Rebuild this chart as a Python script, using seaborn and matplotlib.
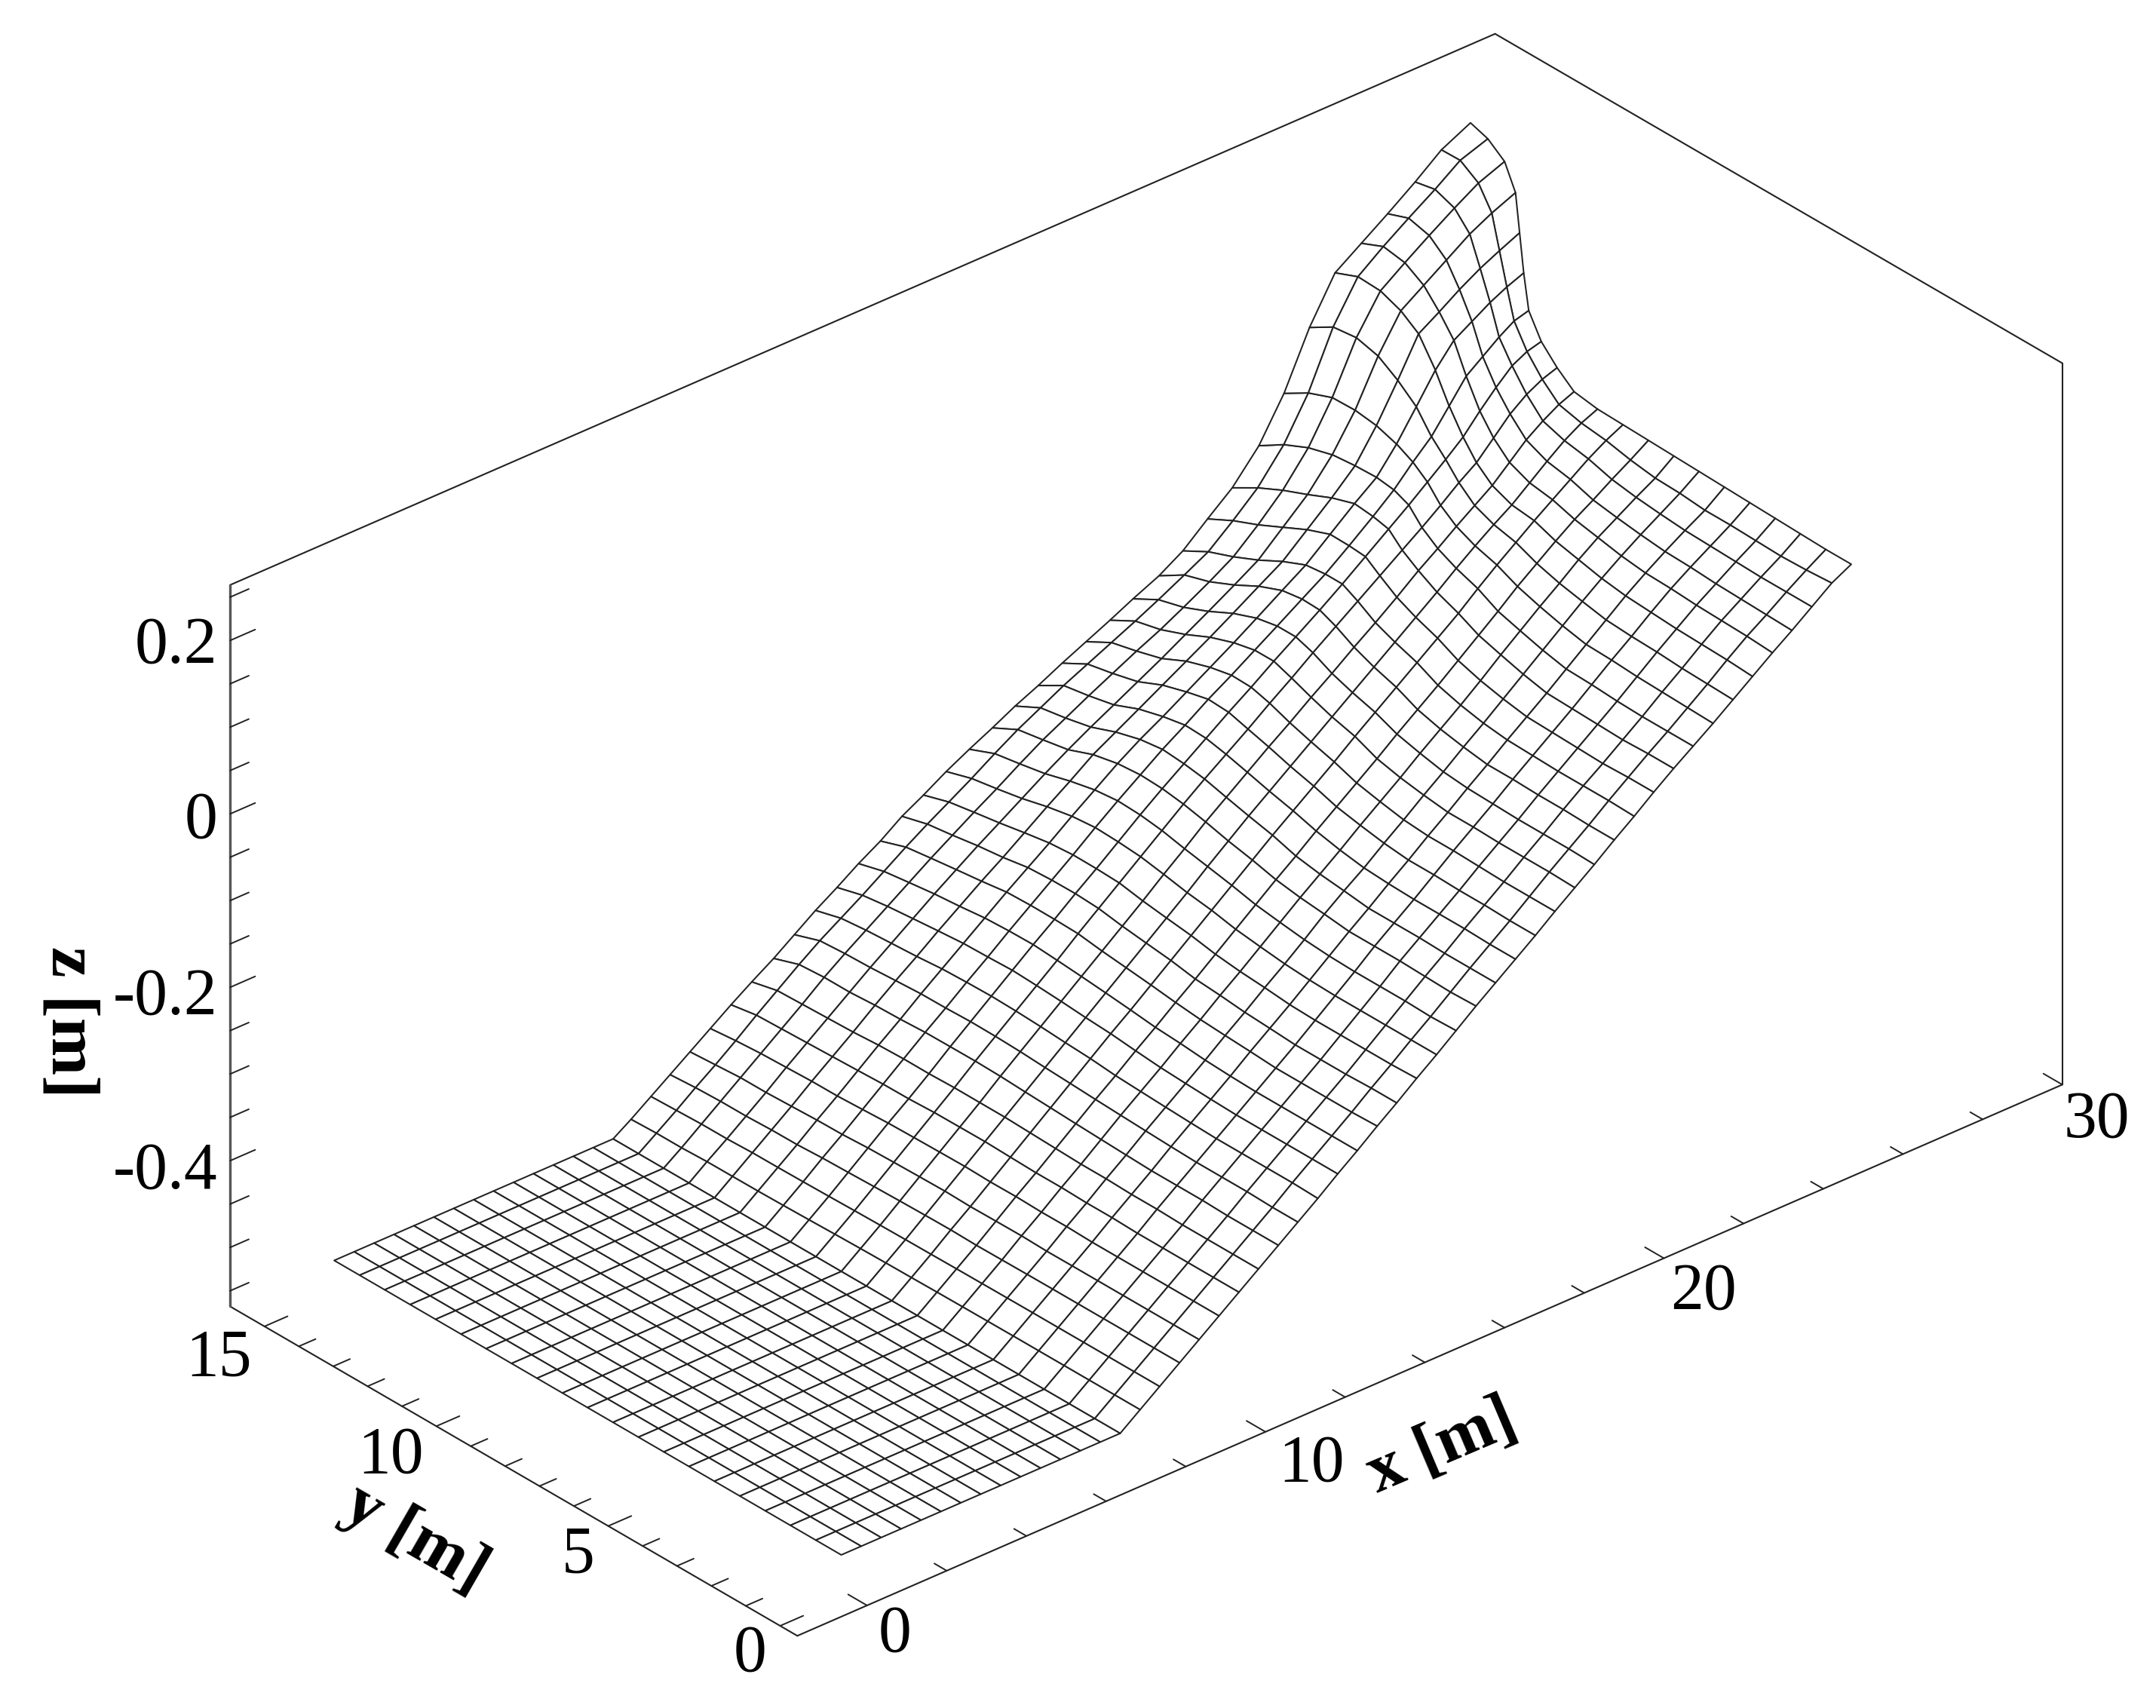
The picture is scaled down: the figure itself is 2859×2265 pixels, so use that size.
import numpy as np
import matplotlib
matplotlib.use("Agg")
import matplotlib.pyplot as plt
import seaborn as sns

sns.set_theme(style="white")
plt.rcParams['font.family'] = ['Liberation Serif', 'DejaVu Serif']

# ---------- data ----------
X_LIM = (-1.75, 30.0)
Y_LIM = (-0.5, 16.0)
Z_LIM = (-0.568, 0.264)

X_MAJOR = [0, 10, 20, 30]
X_MINOR = [2, 4, 6, 8, 12, 14, 16, 18, 22, 24, 26, 28]
Y_MAJOR = [0, 5, 10, 15]
Y_MINOR = [1, 2, 3, 4, 6, 7, 8, 9, 11, 12, 13, 14]
Z_MAJOR = [-0.4, -0.2, 0.0, 0.2]
Z_MINOR = [-0.55, -0.5, -0.45, -0.35, -0.3, -0.25, -0.15, -0.1, -0.05, 0.05, 0.1, 0.15, 0.25]

# cross-shore position of each grid row at the low-y and the high-y edge
row_x_low = [0, .5, 1, 1.5, 2, 2.5, 3, 3.5, 4, 4.5, 5, 5.5, 6, 6.5,
             7.00, 7.50, 7.99, 8.49, 8.98, 9.48, 9.98, 10.47, 10.97, 11.46, 11.96, 12.46, 12.95, 13.45,
             13.94, 14.44, 14.94, 15.43, 15.93, 16.42, 16.92, 17.42, 17.91, 18.41, 18.90, 19.40, 19.90,
             20.39, 20.89, 21.38, 21.88, 22.38, 22.87, 23.37, 23.86, 24.36, 24.86, 25.35]
row_x_high = [0, .5, 1, 1.5, 2, 2.5, 3, 3.5, 4, 4.5, 5, 5.5, 6, 6.5,
              7.00, 7.45, 7.95, 8.43, 8.93, 9.44, 9.96, 10.48, 11.03, 11.55, 12.08, 12.62, 13.16, 13.71,
              14.25, 14.79, 15.36, 15.94, 16.52, 17.09, 17.67, 18.27, 18.87, 19.47, 20.05, 20.70, 21.30,
              21.92, 22.54, 23.21, 23.84, 24.48, 25.12, 25.78, 26.44, 27.13, 27.79, 28.52]
# how far each column leans toward the high-y edge position
col_lean_mid = [0, 0, 0, 0, 0, 0, .03, .07, .12, .2, .26, .36, .5, .68, .83, .93, .97, .99, 1, 1, 1]
col_lean_end = [0, 0, 0, 0, 0, 0, 0, 0, 0, 0, 0, .013, .08, .156, .258, .417, .586, .755, .87, .936, 1]
row_end_weight = [0] * 43 + [.11, .22, .33, .44, .56, .67, .78, .89, 1]

col_y = [.25, .99, 1.73, 2.46, 3.2, 3.94, 4.68, 5.41, 6.15, 6.89, 7.63, 8.36, 9.1, 9.84, 10.58,
         11.31, 12.05, 12.79, 13.53, 14.26, 15.0]

# bed profile: flat toe and then the straight ramp
ramp_x = [0, 7, 28.5]
ramp_z = [-0.527, -0.527, 0.217]

# departure of the surface from the ramp, in mm (rows 15 .. 51, columns low y -> high y)
flat_rows = [[0] * 21 for _ in range(15)]
anomaly_mm = flat_rows + [
    [0, 0, 0, 0, 0, 0, 0, 0, 0, 0, 0, 0, 0, 0, 0, 0, 0, 0, -1, -1, -2],
    [0, 0, 0, 0, 0, 0, 0, 0, 0, 0, 0, 0, 0, 0, 0, 0, 0, -1, -1, -2, -3],
    [0, 0, 0, 0, 0, 0, 0, 0, 0, 1, 1, 1, 1, 1, 1, 0, 0, -1, -1, -2, -4],
    [0, 0, 0, 0, 0, 0, 0, 1, 1, 1, 2, 2, 2, 2, 1, 1, 0, -1, -1, -3, -5],
    [0, 0, 0, 0, 0, 0, 1, 1, 2, 2, 3, 3, 3, 3, 2, 1, 1, 0, -1, -3, -6],
    [0, 0, 0, 0, 0, 1, 1, 2, 2, 3, 4, 4, 4, 3, 3, 2, 1, 0, -1, -2, -7],
    [0, 0, 0, 0, 1, 1, 2, 2, 3, 4, 5, 5, 5, 4, 4, 3, 1, 0, -1, -2, -9],
    [0, 0, 0, 1, 1, 1, 2, 3, 4, 5, 6, 7, 7, 6, 5, 3, 2, 0, 0, -2, -12],
    [0, 0, 1, 1, 1, 2, 3, 4, 5, 6, 7, 8, 8, 7, 5, 4, 2, 0, -1, -3, -13],
    [0, 1, 1, 1, 1, 2, 3, 4, 5, 7, 8, 9, 9, 8, 6, 4, 1, -1, -3, -6, -14],
    [1, 1, 1, 1, 1, 2, 3, 4, 6, 8, 9, 10, 10, 9, 6, 4, 1, -2, -5, -9, -17],
    [1, 1, 1, 1, 1, 2, 3, 5, 6, 8, 10, 11, 11, 10, 7, 4, 0, -3, -7, -11, -19],
    [2, 1, 1, 1, 1, 3, 4, 5, 7, 9, 11, 12, 13, 10, 7, 4, -1, -5, -9, -13, -23],
    [2, 2, 1, 1, 1, 3, 4, 6, 7, 10, 12, 13, 14, 11, 7, 3, -3, -7, -12, -16, -24],
    [3, 2, 2, 2, 2, 3, 5, 6, 8, 11, 13, 14, 15, 11, 7, 2, -4, -10, -15, -20, -29],
    [3, 3, 3, 3, 3, 4, 5, 7, 9, 12, 14, 16, 16, 12, 8, 2, -5, -13, -19, -24, -33],
    [4, 3, 4, 4, 4, 5, 6, 8, 10, 13, 16, 17, 17, 13, 8, 1, -7, -16, -22, -27, -39],
    [5, 4, 5, 6, 6, 6, 8, 9, 11, 14, 17, 19, 18, 13, 7, 0, -8, -20, -26, -31, -46],
    [5, 5, 5, 6, 6, 6, 8, 9, 11, 15, 18, 19, 18, 12, 6, -3, -13, -25, -32, -37, -52],
    [5, 5, 6, 6, 6, 7, 7, 9, 12, 15, 18, 19, 17, 11, 3, -8, -18, -31, -38, -43, -60],
    [5, 5, 6, 6, 7, 7, 8, 10, 12, 15, 18, 19, 16, 10, 1, -12, -23, -37, -45, -51, -67],
    [6, 6, 6, 7, 8, 8, 8, 10, 12, 15, 18, 18, 16, 8, -3, -16, -28, -43, -52, -59, -75],
    [6, 7, 7, 7, 8, 8, 9, 10, 12, 16, 18, 18, 15, 7, -6, -20, -33, -48, -60, -67, -83],
    [6, 7, 7, 7, 8, 9, 9, 11, 13, 16, 18, 17, 15, 5, -9, -23, -37, -53, -66, -74, -90],
    [7, 7, 8, 8, 9, 9, 10, 11, 13, 16, 18, 17, 14, 3, -12, -26, -41, -58, -72, -81, -99],
    [7, 8, 8, 8, 9, 10, 10, 11, 13, 16, 18, 16, 13, 2, -15, -29, -45, -62, -76, -87, -103],
    [8, 8, 7, 8, 9, 10, 11, 12, 14, 16, 18, 16, 12, 2, -15, -27, -42, -58, -73, -85, -100],
    [8, 8, 7, 8, 9, 10, 12, 14, 15, 16, 18, 17, 11, 2, -14, -25, -39, -54, -67, -81, -98],
    [7, 7, 7, 8, 10, 11, 13, 15, 16, 18, 19, 16, 10, 2, -12, -25, -34, -42, -53, -67, -86],
    [6, 7, 8, 9, 11, 12, 14, 16, 18, 19, 19, 16, 10, 3, -6, -14, -17, -22, -28, -41, -60],
    [6, 7, 8, 10, 11, 13, 15, 16, 18, 19, 18, 15, 11, 4, -2, 2, 6, 9, 8, 1, -19],
    [6, 8, 9, 10, 12, 14, 15, 17, 18, 19, 16, 14, 10, 6, 9, 18, 31, 30, 29, 25, 9],
    [6, 8, 9, 10, 12, 13, 14, 16, 17, 18, 17, 17, 15, 13, 20, 27, 28, 28, 28, 25, 7],
    [5, 6, 7, 8, 10, 11, 12, 13, 14, 17, 18, 20, 20, 18, 20, 24, 26, 26, 26, 23, 5],
    [5, 5, 5, 6, 7, 8, 9, 10, 12, 16, 18, 19, 20, 21, 20, 21, 22, 24, 23, 20, 4],
    [5, 3, 2, 3, 4, 4, 6, 6, 9, 13, 15, 16, 16, 17, 18, 16, 16, 18, 19, 19, 5],
    [0, 0, 1, 2, 3, 4, 5, 6, 7, 8, 9, 10, 9, 9, 10, 9, 9, 9, 8, 6, -3],
]

LINE = '#222222'

# ---------- assemble the mesh ----------
x_lo = np.array(row_x_low)[:, None]
x_hi = np.array(row_x_high)[:, None]
w = np.array(row_end_weight)[:, None]
lean = (1 - w) * np.array(col_lean_mid)[None, :] + w * np.array(col_lean_end)[None, :]
X = x_lo + (x_hi - x_lo) * lean
Y = np.tile(np.array(col_y), (X.shape[0], 1))
Z = np.interp(X, ramp_x, ramp_z) + np.array(anomaly_mm, dtype=float) / 1000.0

# ---------- figure ----------
W, H = 2859, 2265
fig = plt.figure(figsize=(W / 100, H / 100), dpi=100, facecolor='white')
S = 3400
ax = fig.add_axes([-226 / W, -588 / H, S / W, S / H], projection='3d', proj_type='ortho')
ax.computed_zorder = False
ax.view_init(elev=30.2, azim=-130.9)
ax.set_box_aspect((1217, 630, 607), zoom=0.7804)
ax.set_xlim(*X_LIM)
ax.set_ylim(*Y_LIM)
ax.set_zlim(*Z_LIM)
ax.set_axis_off()
ax.patch.set_alpha(0)

ax.plot_surface(X, Y, Z, rstride=1, cstride=1, color='white', edgecolor=LINE,
                linewidth=1.45, shade=False, antialiased=True, zorder=3)

x0, x1 = X_LIM
y0, y1 = Y_LIM
z0, z1 = Z_LIM
edges = [((x0, x1), (y0, y0), (z0, z0)), ((x0, x0), (y0, y1), (z0, z0)),
         ((x0, x0), (y1, y1), (z0, z1)), ((x1, x1), (y0, y0), (z0, z1)),
         ((x0, x1), (y1, y1), (z1, z1)), ((x1, x1), (y0, y1), (z1, z1))]
for ex, ey, ez in edges:
    ax.plot(ex, ey, ez, color=LINE, lw=1.5, zorder=1)
ax.plot((x0, x0), (y1, y1), (z0, z1), color='#555555', lw=2.4, zorder=1)

for vals, ln in ((X_MAJOR, 0.55), (X_MINOR, 0.36)):
    for v in vals:
        ax.plot((v, v), (y0, y0 + ln), (z0, z0), color=LINE, lw=1.4, zorder=1)
for vals, ln in ((Y_MAJOR, 0.58), (Y_MINOR, 0.42)):
    for v in vals:
        ax.plot((x0, x0 + ln), (v, v), (z0, z0), color=LINE, lw=1.4, zorder=1)
for vals, ln in ((Z_MAJOR, 0.63), (Z_MINOR, 0.47)):
    for v in vals:
        ax.plot((x0, x0 + ln), (y1, y1), (v, v), color=LINE, lw=1.4, zorder=1)


def put(h, v, s, **kw):
    fig.text(h / 1568, 1 - v / 1242, s, color='black', **kw)


TICK_FS = 63
LABEL_FS = 66
for lab, v in (('0.2', 470), ('0', 597), ('-0.2', 725.7), ('-0.4', 852)):
    put(158, v, lab, fontsize=TICK_FS, ha='right', va='center')
for lab, h, v in (('15', 159, 988), ('10', 284, 1059), ('5', 420.6, 1131), ('0', 545.7, 1203)):
    put(h, v, lab, fontsize=TICK_FS, ha='center', va='center')
for lab, h, v in (('0', 651, 1189), ('10', 954, 1065), ('20', 1239, 940), ('30', 1525, 814.6)):
    put(h, v, lab, fontsize=TICK_FS, ha='center', va='center')

put(1049, 1052, 'x [m]', fontsize=LABEL_FS, fontweight='bold', rotation=23, ha='center', va='center',
    rotation_mode='anchor')
put(302, 1119, 'y [m]', fontsize=LABEL_FS, fontweight='bold', rotation=-30, ha='center', va='center',
    rotation_mode='anchor')
put(50, 743, 'z [m]', fontsize=LABEL_FS, fontweight='bold', rotation=270, ha='center', va='center',
    rotation_mode='anchor')

fig.savefig('out.png', dpi=100, facecolor='white')
